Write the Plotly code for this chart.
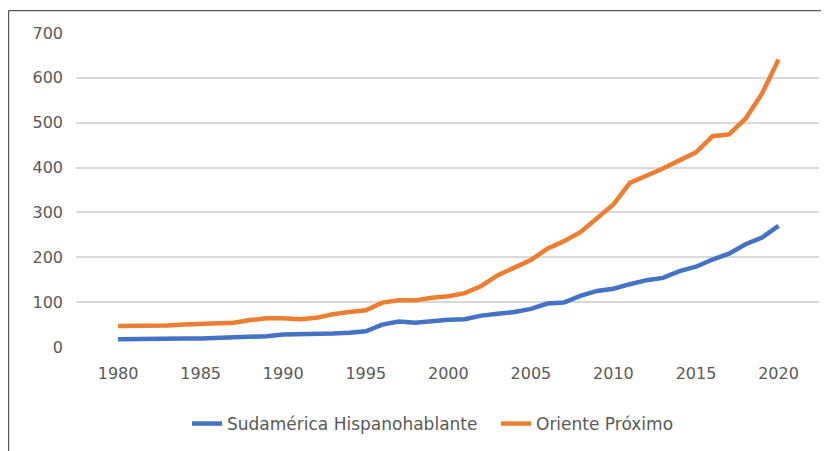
import plotly.graph_objects as go

years = list(range(1980, 2021))
sudamerica = [17, 18, 18, 18, 19, 19, 20, 21, 23, 24, 28, 28, 28, 30, 32, 35,
              50, 57, 54, 58, 61, 62, 70, 74, 78, 85, 97, 99, 114, 125, 130,
              140, 149, 154, 169, 179, 195, 208, 229, 244, 270]
oriente = [47, 47, 49, 48, 50, 52, 52, 54, 60, 64, 64, 62, 65, 73, 78, 82,
           99, 104, 104, 110, 113, 120, 136, 160, 177, 194, 219, 236, 256, 288,
           318, 366, 381, 398, 416, 434, 470, 474, 509, 565, 641]
y_ticks = [0, 100, 200, 300, 400, 500, 600, 700]
x_ticks = [1980, 1985, 1990, 1995, 2000, 2005, 2010, 2015, 2020]

# page body has an 8px margin, so the figure is placed at (8, 8)
W, H = 821, 443
ML, MR, MT, MB = 68, 10, 25, 103
PW, PH = W - ML - MR, H - MT - MB

def px_x(p):  # absolute page x -> paper coordinate
    return (p - 8 - ML) / PW

def px_y(p):  # absolute page y -> paper coordinate
    return 1 - (p - 8 - MT) / PH

fig = go.Figure()
fig.add_trace(go.Scatter(x=years, y=sudamerica, mode="lines",
                         name="Sudamérica Hispanohablante", legend="legend",
                         line=dict(color="#4472C4", width=4.5)))
fig.add_trace(go.Scatter(x=years, y=oriente, mode="lines",
                         name="Oriente Próximo", legend="legend2",
                         line=dict(color="#ED7D31", width=4.5)))

leg_font = dict(family="DejaVu Sans", size=17, color="#595959")
fig.update_layout(
    width=W, height=H,
    margin=dict(l=ML, r=MR, t=MT, b=MB),
    paper_bgcolor="white", plot_bgcolor="white",
    showlegend=True,
    legend=dict(orientation="h", x=px_x(187), xanchor="left", y=px_y(424), yanchor="middle",
                font=leg_font, itemwidth=30, bgcolor="rgba(0,0,0,0)"),
    legend2=dict(orientation="h", x=px_x(496), xanchor="left", y=px_y(424), yanchor="middle",
                 font=leg_font, itemwidth=30, bgcolor="rgba(0,0,0,0)"),
    xaxis=dict(range=[1977.45, 2022.45], tickvals=x_ticks, showgrid=False,
               zeroline=False, showline=False, ticks="",
               ticklabelstandoff=15,
               tickfont=dict(family="DejaVu Sans", size=16, color="#595959")),
    yaxis=dict(range=[0, 700], tickvals=y_ticks, showgrid=True,
               gridcolor="#d9d9d9", gridwidth=1.5, zeroline=False,
               showline=False, ticks="", ticklabelstandoff=12,
               tickfont=dict(family="DejaVu Sans", size=16, color="#595959")),
)

# chart border (left and top edges visible)
top = 1 + (MT - 2.5) / PH
left = -ML / PW
fig.add_shape(type="line", xref="paper", yref="paper",
              x0=left + 0.5 / PW, x1=1 + (MR + 20) / PW, y0=top, y1=top,
              line=dict(color="#595959", width=1.2))
fig.add_shape(type="line", xref="paper", yref="paper",
              x0=left + 0.6 / PW, x1=left + 0.6 / PW, y0=top, y1=-(MB + 20) / PH,
              line=dict(color="#595959", width=1.2))

fig.write_html("out.html")
